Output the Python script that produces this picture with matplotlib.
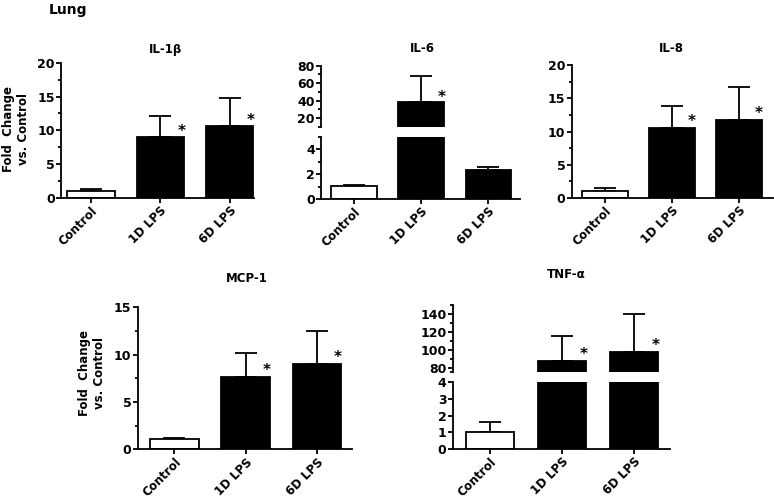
import matplotlib
matplotlib.use("Agg")
import matplotlib.pyplot as plt
from matplotlib.ticker import MultipleLocator, FixedLocator

plt.rcParams['font.family'] = ['DejaVu Sans']
plt.rcParams['font.weight'] = 'bold'

categories = ["Control", "1D LPS", "6D LPS"]

il1b_vals = [1.0, 9.0, 10.6]
il1b_err = [0.3, 3.1, 4.2]
il1b_sig = [False, True, True]
il6_vals = [1.05, 38.0, 2.35]
il6_err = [0.1, 30.0, 0.25]
il6_sig = [False, True, False]
il8_vals = [1.0, 10.6, 11.8]
il8_err = [0.45, 3.2, 4.9]
il8_sig = [False, True, True]
mcp1_vals = [1.05, 7.6, 9.0]
mcp1_err = [0.15, 2.6, 3.5]
mcp1_sig = [False, True, True]
tnf_vals = [1.0, 88.0, 98.0]
tnf_err = [0.6, 27.0, 42.0]
tnf_sig = [False, True, True]

W, H = 774, 498
fig = plt.figure(figsize=(W / 100, H / 100), dpi=100)

TICK_FS = 9
CAT_FS = 8.5
TITLE_FS = 8.5
LW = 1.3
BW = 0.68


def px_axes(x0, x1, ytop, ybot):
    return fig.add_axes([x0 / W, 1 - ybot / H, (x1 - x0) / W, (ybot - ytop) / H])


def style(ax, bottom=True):
    for s in ['top', 'right']:
        ax.spines[s].set_visible(False)
    ax.spines['left'].set_linewidth(LW)
    ax.spines['bottom'].set_linewidth(LW)
    if not bottom:
        ax.spines['bottom'].set_visible(False)
    ax.tick_params(axis='y', which='major', length=3.5, width=LW, labelsize=TICK_FS, pad=1)
    ax.tick_params(axis='y', which='minor', length=2.2, width=LW)
    ax.tick_params(axis='x', length=3.5, width=LW, labelsize=CAT_FS, pad=1)


def draw_bars(ax, vals, errs, sig=None, star_dy=0.0):
    xs = list(range(len(vals)))
    colors = ['white', 'black', 'black']
    ax.bar(xs, vals, width=BW, color=colors, edgecolor='black', linewidth=LW, zorder=2)
    ax.errorbar(xs, vals, yerr=[[0] * len(vals), errs], fmt='none', ecolor='black',
                elinewidth=LW, capsize=8, capthick=LW, zorder=1)
    if sig is not None:
        for x, v, s in zip(xs, vals, sig):
            if s:
                ax.text(x + 0.3, v + star_dy, '*', ha='center', va='center',
                        fontsize=11, fontweight='bold')


def cat_labels(ax):
    ax.set_xticks(range(len(categories)))
    ax.set_xticklabels(categories, rotation=45, ha='right', rotation_mode='anchor',
                       fontsize=CAT_FS, fontweight='bold')


def title_px(x, y, s):
    fig.text(x / W, 1 - y / H, s, ha='center', va='center', fontsize=TITLE_FS,
             fontweight='bold')


# ---- IL-1beta
ax1 = px_axes(61, 254, 62.7, 198)
draw_bars(ax1, il1b_vals, il1b_err, il1b_sig, 0.9)
ax1.set_xlim(-0.433, 2.35)
ax1.set_ylim(0, 20)
ax1.yaxis.set_major_locator(MultipleLocator(5))
ax1.yaxis.set_minor_locator(MultipleLocator(2.5))
style(ax1)
cat_labels(ax1)
title_px(166, 49, 'IL-1β')

# ---- IL-6 (broken axis)
xl6 = (-0.49, 2.47)
ax2u = px_axes(321, 520, 65.7, 127)
ax2l = px_axes(321, 520, 136.7, 199)
draw_bars(ax2u, il6_vals, il6_err, il6_sig, 6)
draw_bars(ax2l, il6_vals, il6_err)
for a in (ax2u, ax2l):
    a.set_xlim(*xl6)
ax2u.set_ylim(10, 80)
ax2u.yaxis.set_major_locator(FixedLocator([20, 40, 60, 80]))
ax2u.yaxis.set_minor_locator(FixedLocator([10, 30, 50, 70]))
ax2l.set_ylim(0, 5)
ax2l.yaxis.set_major_locator(FixedLocator([0, 2, 4]))
ax2l.yaxis.set_minor_locator(FixedLocator([1, 3, 5]))
style(ax2u, bottom=False)
ax2u.set_xticks([])
style(ax2l)
cat_labels(ax2l)
title_px(422, 49, 'IL-6')

# ---- IL-8
ax3 = px_axes(571.7, 773, 65, 198)
draw_bars(ax3, il8_vals, il8_err, il8_sig, 0.9)
ax3.set_xlim(-0.497, 2.51)
ax3.set_ylim(0, 20)
ax3.yaxis.set_major_locator(MultipleLocator(5))
ax3.yaxis.set_minor_locator(MultipleLocator(2.5))
style(ax3)
cat_labels(ax3)
title_px(671, 49, 'IL-8')

# ---- MCP-1
ax4 = px_axes(137.7, 351.7, 307.3, 449.3)
draw_bars(ax4, mcp1_vals, mcp1_err, mcp1_sig, 0.7)
ax4.set_xlim(-0.514, 2.49)
ax4.set_ylim(0, 15)
ax4.yaxis.set_major_locator(MultipleLocator(5))
ax4.yaxis.set_minor_locator(MultipleLocator(2.5))
style(ax4)
cat_labels(ax4)
title_px(247, 278, 'MCP-1')

# ---- TNF-alpha (broken axis)
xl5 = (-0.518, 2.5)
ax5u = px_axes(452.7, 670, 305, 372.3)
ax5l = px_axes(452.7, 670, 382.3, 449)
draw_bars(ax5u, tnf_vals, tnf_err, tnf_sig, 7)
draw_bars(ax5l, tnf_vals, tnf_err)
for a in (ax5u, ax5l):
    a.set_xlim(*xl5)
ax5u.set_ylim(75, 150)
ax5u.yaxis.set_major_locator(FixedLocator([80, 100, 120, 140]))
ax5u.yaxis.set_minor_locator(FixedLocator([75, 90, 110, 130, 150]))
ax5l.set_ylim(0, 4)
ax5l.yaxis.set_major_locator(FixedLocator([0, 1, 2, 3, 4]))
style(ax5u, bottom=False)
ax5u.set_xticks([])
style(ax5l)
cat_labels(ax5l)
title_px(566, 275, 'TNF-α')

# ---- Y labels and heading
fig.text(16 / W, 1 - 129 / H, 'Fold  Change\nvs. Control', rotation=90, ha='center',
         va='center', fontsize=8.5, fontweight='bold', linespacing=1.15)
fig.text(92 / W, 1 - 373 / H, 'Fold  Change\nvs. Control', rotation=90, ha='center',
         va='center', fontsize=8.5, fontweight='bold', linespacing=1.15)
fig.text(49 / W, 1 - 10 / H, 'Lung', ha='left', va='center', fontsize=10, fontweight='bold')

fig.savefig('out.png', dpi=100)
